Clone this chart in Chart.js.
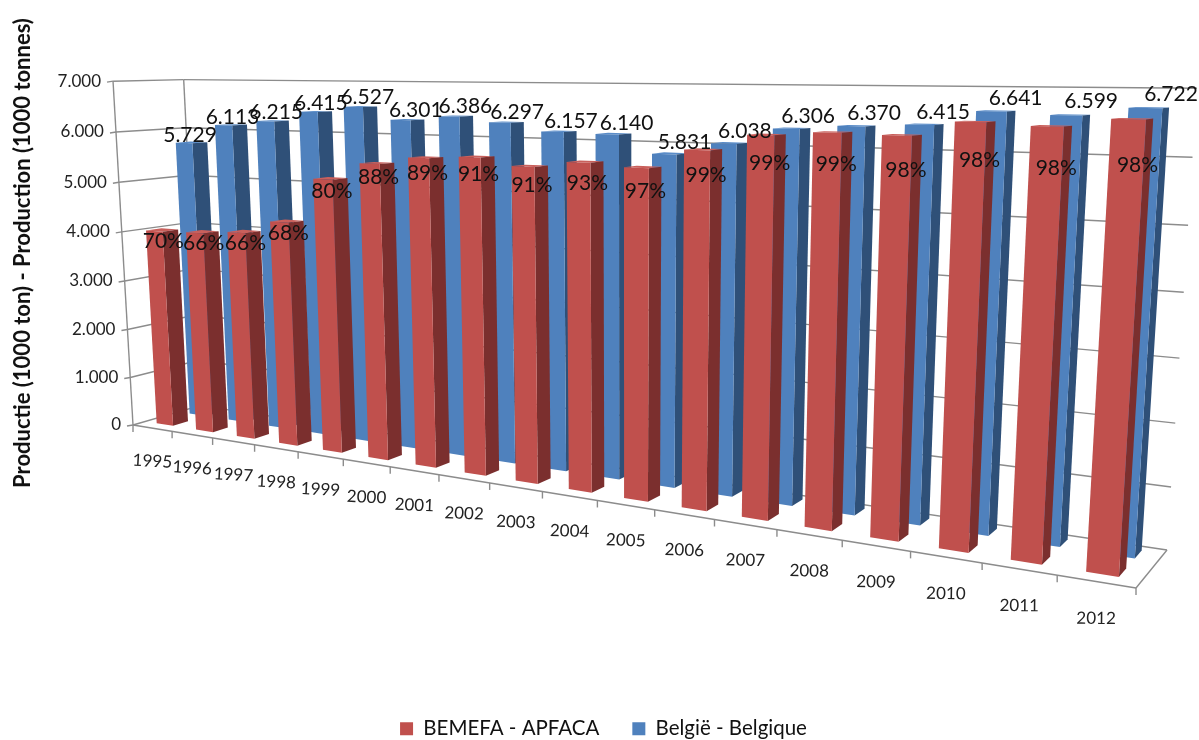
<!DOCTYPE html>
<html>
<head>
<meta charset="utf-8">
<title>Productie BEMEFA</title>
<script src="https://cdn.jsdelivr.net/npm/chart.js@4/dist/chart.umd.min.js"></script>
<style>
  html, body { margin: 0; padding: 0; background: #fff; }
  canvas { display: block; }
</style>
</head>
<body>
<canvas id="chart" width="1199" height="740"></canvas>
<script>
const years = ["1995","1996","1997","1998","1999","2000","2001","2002","2003","2004","2005","2006","2007","2008","2009","2010","2011","2012"];
const belgium = [5729,6113,6215,6415,6527,6301,6386,6297,6157,6140,5831,6038,6306,6370,6415,6641,6599,6722];
const bemefa = [4010,4035,4102,4362,5222,5545,5684,5730,5603,5710,5656,5978,6243,6306,6287,6508,6467,6588];
const bemefaShare = ["70%","66%","66%","68%","80%","88%","89%","91%","91%","93%","97%","99%","99%","99%","98%","98%","98%","98%"];
const belgiumLabels = ["5.729","6.113","6.215","6.415","6.527","6.301","6.386","6.297","6.157","6.140","5.831","6.038","6.306","6.370","6.415","6.641","6.599","6.722"];
const yTickLabels = ["0","1.000","2.000","3.000","4.000","5.000","6.000","7.000"];

const FONT = "Lato, Carlito, sans-serif";
const GRID = "#8c8c8c";

// floor corners as seen in the picture: front-left, front-right, back-right, back-left
const floorQuad = [[133,425],[1136,588],[1167,550],[200,405.6]];
// where the vertical edges of the cube meet, and how far the top sits towards it
const verticalVanish = [625,8897];
const lift = -0.039;

// depth of each series box inside the plot cube (0 = front, 1 = back)
const depths = [[0.18,0.40],[0.67,0.89]];
const faces = [
  { front: "#c0504d", side: "#7b2f2e", top: "#c9605c" },
  { front: "#4f81bd", side: "#2f5078", top: "#5a8cc8" }
];

function homography(q) {
  const [x0,y0] = q[0], [x1,y1] = q[1], [x2,y2] = q[2], [x3,y3] = q[3];
  const dx1 = x1-x2, dx2 = x3-x2, sx = x0-x1+x2-x3;
  const dy1 = y1-y2, dy2 = y3-y2, sy = y0-y1+y2-y3;
  const det = dx1*dy2 - dx2*dy1;
  const g = (sx*dy2 - dx2*sy) / det;
  const h = (dx1*sy - sx*dy1) / det;
  const a = x1-x0+g*x1, b = x3-x0+h*x3;
  const d = y1-y0+g*y1, e = y3-y0+h*y3;
  return (u, w) => {
    const k = g*u + h*w + 1;
    return [(a*u + b*w + x0)/k, (d*u + e*w + y0)/k];
  };
}
const onFloor = homography(floorQuad);

// u across the categories, d into the depth, v up the value axis (all 0..1)
function project(u, d, v) {
  const p = onFloor(u, d);
  const k = 1 - 0.311*u + 0.055*d;
  const t = lift*v / (k + lift*v);
  return [p[0] + (verticalVanish[0]-p[0])*t, p[1] + (verticalVanish[1]-p[1])*t];
}

function poly(ctx, pts, fill) {
  ctx.beginPath();
  pts.forEach((p, i) => i ? ctx.lineTo(p[0], p[1]) : ctx.moveTo(p[0], p[1]));
  ctx.closePath();
  ctx.fillStyle = fill;
  ctx.fill();
}

function line(ctx, a, b) {
  ctx.beginPath();
  ctx.moveTo(a[0], a[1]);
  ctx.lineTo(b[0], b[1]);
  ctx.stroke();
}

function normU(chart, px) {
  const a = chart.chartArea;
  return (px - a.left) / (a.right - a.left);
}
function normV(chart, px) {
  const a = chart.chartArea;
  return (a.bottom - px) / (a.bottom - a.top);
}

const cube3d = {
  id: "cube3d",
  afterLayout(chart) {
    // legend sits a bit lower than the default bottom margin
    chart.legend.top += 9;
    chart.legend.bottom += 9;
  },
  beforeDatasetsDraw(chart) {
    const ctx = chart.ctx, y = chart.scales.y, x = chart.scales.x;
    ctx.save();
    ctx.strokeStyle = GRID;
    ctx.lineWidth = 1.4;
    // walls
    y.ticks.forEach((t, i) => {
      const v = normV(chart, y.getPixelForValue(t.value));
      const a = project(0,0,v), b = project(0,1,v), c = project(1,1,v);
      line(ctx, a, b);
      line(ctx, b, c);
      line(ctx, [a[0]-6, a[1]+1], a);
      ctx.fillStyle = "#222";
      ctx.font = "17px " + FONT;
      ctx.textAlign = "right";
      ctx.textBaseline = "middle";
      ctx.fillText(yTickLabels[i], a[0]-12, a[1]);
    });
    line(ctx, project(0,0,0), project(0,0,1));
    line(ctx, project(0,1,0), project(0,1,1));
    // floor
    line(ctx, project(0,0,0), project(1,0,0));
    line(ctx, project(1,0,0), project(1,1,0));
    // ticks and year labels on the front floor edge
    const n = chart.data.labels.length;
    for (let i = 0; i <= n; i++) {
      const p = project(i/n, 0, 0);
      line(ctx, p, [p[0], p[1]+7]);
    }
    chart.data.labels.forEach((lab, i) => {
      const u = normU(chart, x.getPixelForValue(i));
      const p = project(u, 0, 0);
      ctx.save();
      ctx.translate(p[0], p[1] + 33 + 4*u);
      ctx.rotate((3.5 - 3*u) * Math.PI / 180);
      ctx.fillStyle = "#222";
      ctx.font = "17px " + FONT;
      ctx.textAlign = "center";
      ctx.textBaseline = "middle";
      ctx.fillText(lab, 0, 0);
      ctx.restore();
    });
    // axis title
    ctx.translate(23, 253);
    ctx.rotate(-Math.PI/2);
    ctx.fillStyle = "#111";
    ctx.font = "bold 22px " + FONT;
    ctx.textAlign = "center";
    ctx.textBaseline = "middle";
    ctx.fillText("Productie (1000 ton) - Production (1000 tonnes)", 0, 0);
    ctx.restore();
  },
  beforeDatasetDraw(chart, args) {
    const ctx = chart.ctx, [d0, d1] = depths[args.index], col = faces[args.index];
    args.meta.data.forEach(bar => {
      const uL = normU(chart, bar.x - bar.width/2), uR = normU(chart, bar.x + bar.width/2);
      const v = normV(chart, bar.y);
      const fbl = project(uL,d0,0), fbr = project(uR,d0,0), ftl = project(uL,d0,v), ftr = project(uR,d0,v);
      const bbr = project(uR,d1,0), btr = project(uR,d1,v), btl = project(uL,d1,v);
      poly(ctx, [ftl,ftr,btr,btl], col.top);
      poly(ctx, [fbr,bbr,btr,ftr], col.side);
      poly(ctx, [fbl,fbr,ftr,ftl], col.front);
    });
    return false;
  },
  afterDatasetsDraw(chart) {
    const ctx = chart.ctx;
    ctx.save();
    ctx.fillStyle = "#111";
    ctx.font = "21px " + FONT;
    ctx.textAlign = "center";
    ctx.textBaseline = "middle";
    [[1, belgiumLabels], [0, bemefaShare]].forEach(([idx, texts]) => {
      chart.getDatasetMeta(idx).data.forEach((bar, i) => {
        const u = normU(chart, bar.x), v = normV(chart, bar.y);
        const p = project(u, depths[idx][0], v);
        if (idx === 1) {
          ctx.fillText(texts[i], p[0] + 2 + 24*Math.sqrt(u), p[1] - 8 - 6*u);
        } else {
          ctx.fillText(texts[i], p[0] + 9, p[1] + 10 + 38*u*u);
        }
      });
    });
    ctx.restore();
  }
};

new Chart(document.getElementById("chart"), {
  type: "bar",
  data: {
    labels: years,
    datasets: [
      { label: "BEMEFA - APFACA", data: bemefa, backgroundColor: "#c0504d", categoryPercentage: 0.42, barPercentage: 1, grouped: false },
      { label: "België - Belgique", data: belgium, backgroundColor: "#4f81bd", categoryPercentage: 0.42, barPercentage: 1, grouped: false }
    ]
  },
  options: {
    responsive: false,
    animation: false,
    layout: { padding: { left: 8 } },
    scales: {
      x: { display: false },
      y: { display: false, min: 0, max: 7000, ticks: { stepSize: 1000 } }
    },
    plugins: {
      tooltip: { enabled: false },
      legend: {
        position: "bottom",
        labels: { color: "#111", font: { family: FONT, size: 20.5 }, boxWidth: 13, boxHeight: 13, padding: 33 }
      }
    }
  },
  plugins: [cube3d]
});
</script>
</body>
</html>
